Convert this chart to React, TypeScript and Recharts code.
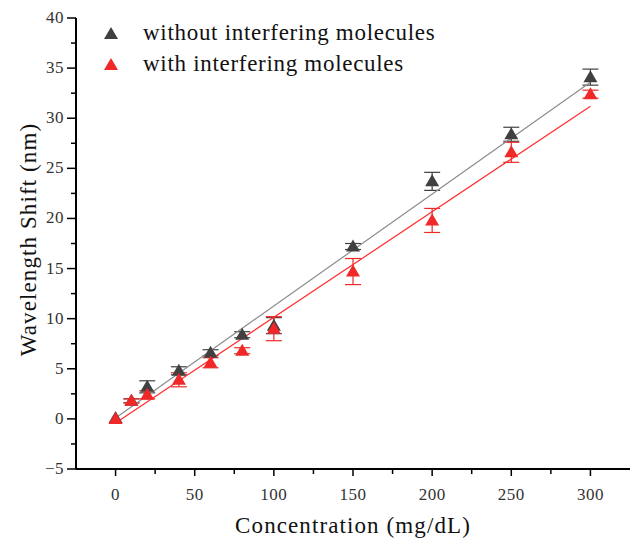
import React from "react";
import {
  ScatterChart, Scatter, XAxis, YAxis, ErrorBar, Legend,
} from "recharts";

// Concentración vs desplazamiento de longitud de onda, con y sin moléculas interferentes.
const conc = [0, 10, 20, 40, 60, 80, 100, 150, 200, 250, 300];
const shiftWithout = [0.1, 1.8, 3.2, 4.8, 6.6, 8.4, 9.3, 17.2, 23.7, 28.4, 34.1];
const errWithout = [0, 0.2, 0.6, 0.4, 0.3, 0.3, 0.8, 0.3, 0.9, 0.7, 0.8];
const shiftWith = [0, 1.8, 2.4, 3.9, 5.6, 6.8, 9.0, 14.7, 19.8, 26.6, 32.4];
const errWith = [0, 0.2, 0.4, 0.7, 0.5, 0.3, 1.2, 1.3, 1.2, 1.0, 0.4];

// Rectas de ajuste lineal (extremos)
const fitX = [0, 300];
const fitWithout = [0.1, 33.6];
const fitWith = [-0.4, 31.2];

const xTicks = [-25, 0, 25, 50, 75, 100, 125, 150, 175, 200, 225, 250, 275, 300, 325];
const yTicks = [-5, -2.5, 0, 2.5, 5, 7.5, 10, 12.5, 15, 17.5, 20, 22.5, 25, 27.5, 30, 32.5, 35, 37.5, 40];

const SERIES = [
  { name: "without interfering molecules", color: "#404040" },
  { name: "with interfering molecules", color: "#f02828" },
];

const FONT = "Liberation Serif, DejaVu Serif, serif";

const pts = (ys: number[], errs: number[]) => conc.map((x, i) => ({ x, y: ys[i], err: errs[i] }));
const fit = (ys: number[]) => fitX.map((x, i) => ({ x, y: ys[i] }));

const tri = (color: string) => (p: any) => {
  const { cx, cy } = p;
  if (cx == null || cy == null) return null;
  return <polygon points={`${cx},${cy - 7} ${cx - 7},${cy + 5} ${cx + 7},${cy + 5}`} fill={color} />;
};
const noShape = () => null;

function XTick({ x, y, payload }: any) {
  const v = payload.value;
  if (v < -20 || v > 320) return null;
  const major = v % 50 === 0;
  return (
    <g>
      <line x1={x} x2={x} y1={y} y2={y + (major ? 7 : 5)} stroke="#000" strokeWidth={1.5} />
      {major && (
        <text x={x} y={y + 31} textAnchor="middle" fontSize={17} fill="#333" style={{ fontFamily: FONT, letterSpacing: 0.5 }}>{v}</text>
      )}
    </g>
  );
}

function YTick({ x, y, payload }: any) {
  const v = payload.value;
  const major = v % 5 === 0;
  return (
    <g>
      <line x1={x - (major ? 9 : 5)} x2={x} y1={y} y2={y} stroke="#000" strokeWidth={1.5} />
      {major && (
        <text x={x - 12} y={y + 5} textAnchor="end" fontSize={17} fill="#333" style={{ fontFamily: FONT, letterSpacing: 0.5 }}>
          {v < 0 ? `\u2212${-v}` : v}
        </text>
      )}
    </g>
  );
}

function LegendBox() {
  return (
    <div style={{ fontFamily: FONT, fontSize: 23, letterSpacing: 0.7, color: "#111", whiteSpace: "nowrap" }}>
      {SERIES.map((s) => (
        <div key={s.name} style={{ display: "flex", alignItems: "center", height: 31 }}>
          <svg width={16} height={14} style={{ marginRight: 24 }}>
            <polygon points="8,1 1,13 15,13" fill={s.color} />
          </svg>
          <span>{s.name}</span>
        </div>
      ))}
    </div>
  );
}

const labelStyle = { fontFamily: FONT, letterSpacing: 1.1 };

export default function App() {
  return (
    <div style={{ position: "absolute", left: 0, top: 0, background: "#fff", fontFamily: FONT }}>
      <ScatterChart width={630} height={538} margin={{ top: 18, right: 0, bottom: 9, left: 0 }}>
        <XAxis
          type="number" dataKey="x" domain={[-25, 325]} ticks={xTicks} interval={0}
          allowDataOverflow tickSize={0} tickMargin={0} tickLine={false} tick={<XTick />}
          height={60} axisLine={{ stroke: "#000", strokeWidth: 2 }}
          label={{ value: "Concentration (mg/dL)", position: "insideBottom", offset: -4, fontSize: 23, fill: "#111", style: labelStyle }}
        />
        <YAxis
          type="number" dataKey="y" domain={[-5, 40]} ticks={yTicks} interval={0}
          allowDataOverflow tickSize={0} tickMargin={0} tickLine={false} tick={<YTick />}
          width={76} axisLine={{ stroke: "#000", strokeWidth: 2 }}
          label={{ value: "Wavelength Shift (nm)", angle: -90, position: "insideLeft", offset: 28, dy: -4, fontSize: 23, fill: "#111", style: { ...labelStyle, textAnchor: "middle" } }}
        />
        <Legend
          layout="vertical" align="center" verticalAlign="middle"
          wrapperStyle={{ left: 103, top: 17, width: "auto" }}
          content={() => <LegendBox />}
        />
        <Scatter data={fit(fitWithout)} line={{ stroke: "#8c8c8c", strokeWidth: 1.2 }} shape={noShape} isAnimationActive={false} legendType="none" />
        <Scatter data={fit(fitWith)} line={{ stroke: "#ff2a2a", strokeWidth: 1.2 }} shape={noShape} isAnimationActive={false} legendType="none" />
        <Scatter data={pts(shiftWithout, errWithout)} shape={tri(SERIES[0].color)} isAnimationActive={false}>
          <ErrorBar dataKey="err" direction="y" width={8} stroke={SERIES[0].color} strokeWidth={1.2} />
        </Scatter>
        <Scatter data={pts(shiftWith, errWith)} shape={tri(SERIES[1].color)} isAnimationActive={false}>
          <ErrorBar dataKey="err" direction="y" width={8} stroke={SERIES[1].color} strokeWidth={1.2} />
        </Scatter>
      </ScatterChart>
    </div>
  );
}
